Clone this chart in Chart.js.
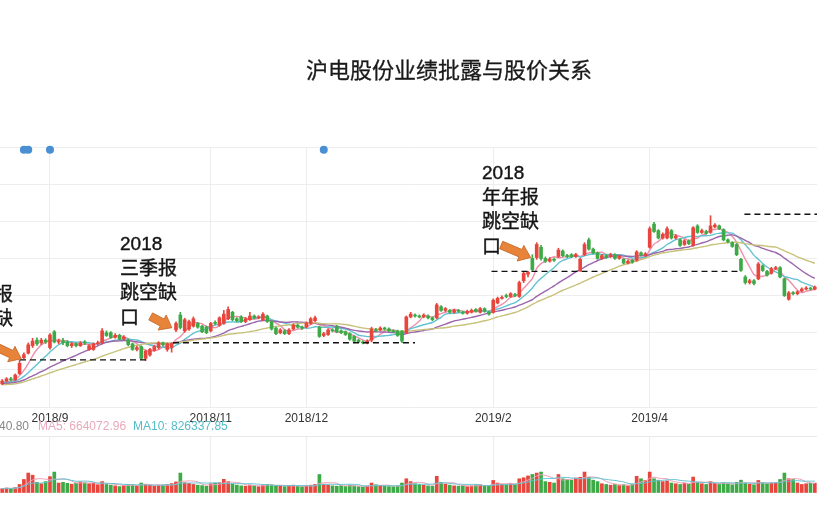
<!DOCTYPE html>
<html>
<head>
<meta charset="utf-8">
<script src="https://cdn.jsdelivr.net/npm/chart.js@4.4.1/dist/chart.umd.min.js"></script>
<style>
  html, body { margin: 0; padding: 0; background: #fff; }
  #wrap { position: relative; width: 817px; height: 517px; overflow: hidden; }
  #price { position: absolute; left: 0; top: 0; }
  #vol { position: absolute; left: 0; top: 430px; }
  #title { position: absolute; left: 249px; width: 400px; top: 53px; text-align: center;
           font: 22px "Noto Sans CJK SC", sans-serif; line-height: 30px; color: #1a1a1a;
           -webkit-text-stroke: 0.3px #1a1a1a; }
  .note { position: absolute; white-space: pre; color: #151515;
          font: 19px "Liberation Sans", "Noto Sans CJK SC", sans-serif; line-height: 24.5px;
          -webkit-text-stroke: 0.4px #151515; }
  .leg { position: absolute; top: 419px; font: 12px "Liberation Sans", Arial, sans-serif; line-height: 14px; white-space: pre; }
</style>
</head>
<body>
<div id="wrap">
  <canvas id="price" width="817" height="430"></canvas>
  <canvas id="vol" width="817" height="87"></canvas>
  <div id="title">沪电股份业绩批露与股价关系</div>
  <div class="note" style="left:-44px; top:258px;">2018
半年报
跳空缺
口</div>
  <div class="note" style="left:120px; top:232px;">2018
三季报
跳空缺
口</div>
  <div class="note" style="left:482px; top:161px;">2018
年年报
跳空缺
口</div>
  <span class="leg" style="left:-1px; color:#888;">40.80</span>
  <span class="leg" style="left:38px; color:#e9a9bb;">MA5: 664072.96</span>
  <span class="leg" style="left:133px; color:#56bcc8;">MA10: 826337.85</span>
</div>
<script>
// daily candles, 2018-08-17 .. 2019-05-29 (index 0..187)
var opens = [
  5.25,5.40,5.52,5.46,5.80,6.65,6.90,7.30,7.60,7.45,
  7.60,7.20,8.05,7.50,7.56,7.50,7.30,7.40,7.30,7.50,
  7.10,7.10,7.40,7.46,8.00,8.00,7.75,7.86,7.66,7.60,
  7.40,7.10,7.25,6.62,6.80,7.05,7.20,7.45,7.10,7.20,
  8.15,8.95,8.10,8.20,8.35,8.50,8.35,8.30,8.10,8.55,
  8.40,8.50,8.75,9.10,8.75,8.85,8.60,8.70,8.90,8.80,
  8.70,8.90,8.60,8.25,8.00,8.10,7.95,8.20,8.40,8.30,
  8.30,8.50,8.65,8.30,7.85,7.90,8.15,8.35,8.10,8.05,
  7.95,7.80,7.60,7.50,7.45,7.60,8.15,8.15,8.25,8.20,
  8.10,8.10,8.10,8.00,8.85,8.95,8.90,8.85,8.90,8.80,
  8.80,9.40,9.20,9.20,9.10,9.20,9.10,9.05,9.10,9.25,
  9.10,9.30,9.10,9.10,9.60,9.85,10.00,9.95,10.05,9.95,
  10.80,11.15,12.00,12.05,12.60,12.00,11.85,11.95,12.10,12.40,
  12.15,12.20,12.10,11.35,12.20,13.00,12.50,12.30,12.00,12.15,
  12.10,12.20,12.00,11.95,11.75,11.90,11.90,12.30,12.15,12.60,
  13.85,13.50,13.10,13.10,13.50,13.10,13.00,12.75,12.95,12.70,
  13.75,13.40,13.45,13.40,13.70,13.75,13.55,13.00,12.85,12.75,
  11.95,11.00,10.70,10.80,10.90,11.60,11.30,11.20,11.45,11.50,
  10.90,9.80,10.15,10.10,10.25,10.35,10.40,10.35
];
var closes = [
  5.40,5.52,5.46,5.72,6.35,6.82,7.35,7.55,7.40,7.60,
  7.50,7.88,7.50,7.56,7.46,7.30,7.40,7.30,7.45,7.44,
  7.30,7.40,7.46,8.10,7.85,7.75,7.86,7.66,7.76,7.36,
  7.10,7.20,6.62,7.00,7.10,7.25,7.45,7.35,7.40,7.42,
  8.50,8.28,8.70,8.60,8.75,8.30,8.05,8.00,8.50,8.50,
  8.80,9.00,9.25,8.70,8.65,8.60,8.75,8.90,8.80,8.85,
  9.00,8.60,8.20,7.95,8.15,7.95,8.15,8.40,8.30,8.25,
  8.50,8.75,8.80,7.80,7.95,8.15,8.10,8.05,8.00,7.90,
  7.65,7.55,7.50,7.45,7.55,8.20,8.10,8.25,8.20,8.10,
  8.05,7.85,7.55,8.85,9.00,8.90,8.85,8.95,8.80,8.70,
  9.50,9.20,9.30,9.10,9.20,9.15,9.05,9.15,9.20,9.15,
  9.30,9.15,9.00,9.75,9.85,9.90,9.95,10.10,10.00,10.70,
  11.20,11.25,11.40,12.75,12.00,11.85,11.95,11.90,12.45,12.15,
  12.10,12.10,12.20,11.95,12.75,12.50,12.30,12.00,12.15,12.05,
  12.20,12.00,12.10,11.75,11.85,11.80,12.35,12.20,12.25,13.60,
  13.45,13.10,13.30,13.60,13.10,13.20,12.70,12.95,12.80,13.65,
  13.40,13.50,13.35,13.75,13.80,13.60,13.00,12.90,12.65,12.20,
  11.35,10.70,10.80,10.65,11.70,11.35,11.10,11.45,11.50,11.00,
  10.00,10.15,10.10,10.20,10.35,10.40,10.35,10.45
];
var highs = [
  5.48,5.58,5.60,5.78,6.54,6.92,7.45,7.70,7.72,7.70,
  7.68,7.95,8.12,7.66,7.70,7.58,7.48,7.46,7.52,7.58,
  7.36,7.46,7.55,8.22,8.10,8.06,7.95,7.92,7.84,7.66,
  7.45,7.28,7.30,7.06,7.16,7.32,7.52,7.50,7.44,7.46,
  8.58,9.10,8.78,8.68,8.85,8.56,8.40,8.36,8.56,8.64,
  8.86,9.20,9.40,9.15,8.82,8.92,8.82,9.10,8.96,8.92,
  9.08,8.95,8.64,8.30,8.22,8.16,8.22,8.48,8.46,8.36,
  8.58,8.82,8.90,8.34,8.02,8.22,8.22,8.40,8.16,8.10,
  8.00,7.85,7.65,7.56,7.62,8.30,8.24,8.32,8.30,8.26,
  8.16,8.14,8.12,8.90,9.10,9.02,8.96,9.02,8.96,8.85,
  9.58,9.46,9.36,9.26,9.26,9.26,9.16,9.22,9.28,9.30,
  9.36,9.34,9.16,9.82,9.92,9.98,10.08,10.16,10.12,10.78,
  11.25,11.30,12.20,12.85,12.70,12.08,12.05,12.02,12.55,12.46,
  12.22,12.26,12.28,12.00,12.85,13.10,12.56,12.35,12.22,12.20,
  12.28,12.25,12.16,12.00,11.92,11.95,12.42,12.36,12.32,13.70,
  13.95,13.55,13.38,13.70,13.56,13.28,13.05,13.02,13.00,13.72,
  13.82,13.58,13.52,14.30,13.88,13.80,13.60,13.06,12.90,12.80,
  12.00,11.08,10.88,10.86,11.78,11.66,11.36,11.52,11.58,11.56,
  10.95,10.22,10.22,10.26,10.42,10.48,10.45,10.52
];
var lows = [
  5.20,5.35,5.40,5.42,5.75,6.60,6.85,7.20,7.32,7.36,
  7.42,7.12,7.45,7.40,7.36,7.24,7.20,7.24,7.26,7.36,
  7.04,7.05,7.34,7.40,7.80,7.70,7.70,7.60,7.60,7.30,
  7.05,7.02,6.55,6.50,6.74,7.00,7.12,7.28,7.00,6.95,
  8.05,8.20,8.02,8.12,8.30,8.24,8.00,7.95,8.04,8.42,
  8.35,8.45,8.70,8.64,8.58,8.55,8.54,8.66,8.74,8.75,
  8.65,8.55,8.14,7.90,7.94,7.90,7.90,8.15,8.24,8.18,
  8.26,8.45,8.60,7.75,7.78,7.85,8.04,8.00,7.95,7.85,
  7.60,7.50,7.46,7.40,7.40,7.50,8.04,8.10,8.14,8.05,
  8.00,7.80,7.46,7.95,8.80,8.84,8.80,8.80,8.74,8.65,
  8.75,9.15,9.14,9.05,9.05,9.10,9.00,9.00,9.06,9.10,
  9.06,9.10,8.95,9.05,9.55,9.80,9.88,9.90,9.94,9.90,
  10.70,11.00,11.35,11.95,11.90,11.78,11.80,11.84,12.05,12.10,
  12.04,12.04,12.05,11.30,12.15,12.45,12.24,11.95,11.95,12.00,
  12.05,11.95,11.95,11.70,11.70,11.74,11.85,12.14,12.10,12.55,
  13.40,13.05,13.04,13.05,13.04,13.04,12.65,12.70,12.74,12.65,
  13.35,13.35,13.30,13.35,13.64,13.55,12.95,12.84,12.60,12.15,
  11.30,10.62,10.62,10.58,10.85,11.30,11.04,11.15,11.40,10.95,
  9.95,9.75,10.04,10.04,10.20,10.30,10.30,10.30
];
// volume, 10k lots
var volumes = [
  30,35,32,38,60,95,140,125,75,65,
  80,115,147,70,75,68,62,70,78,72,
  66,70,58,80,60,55,50,45,52,60,
  58,48,70,62,55,48,52,56,60,66,
  78,140,72,68,60,55,52,48,65,70,
  72,96,80,62,55,50,48,56,52,45,
  55,60,58,52,48,45,50,55,48,44,
  50,55,60,130,62,55,50,48,52,46,
  55,50,45,42,48,70,58,52,48,45,
  44,50,70,100,80,65,60,55,50,48,
  117,75,62,55,50,48,52,45,50,55,
  58,52,48,88,70,62,58,65,60,100,
  107,120,130,140,147,80,75,70,130,100,
  95,90,105,110,147,110,90,80,65,60,
  55,60,52,58,50,62,117,100,88,147,
  100,90,80,85,70,65,60,70,62,112,
  75,65,60,80,68,60,72,65,58,75,
  90,70,62,58,88,72,65,70,70,95,
  140,100,95,70,60,65,68,69
];
// closes before the visible window (only feed the moving averages)
var priorCloses = [5.00,5.05,5.10,5.00,4.95,5.05,5.10,5.15,5.10,5.20,5.15,5.10,5.20,5.25,5.20,
                   5.15,5.20,5.30,5.25,5.20,5.30,5.35,5.30,5.25,5.30,5.35,5.30,5.25,5.30];

var monthTicks = [11, 48, 70, 113, 149];
var monthLabels = ['2018/9', '2018/11', '2018/12', '2019/2', '2019/4'];

// gap levels (dashed) and where they run
var gapLevel = [6.54, 7.46, 11.30, 14.38];
var gapFrom = [4.1, 39.3, 112.6, 170.8];
var gapTo = [34, 95, 169.2, 188];

// report arrows: candle index and price of the tip
var arrowAt = [4.4, 39.05, 121.6];
var arrowPrice = [6.6, 8.27, 12.05];

// event markers on top
var eventIdx = [5, 6, 11, 74];

var upColor = '#e8463d', downColor = '#3daa47';

function movingAverage(series, prior, n) {
  var all = prior.concat(series);
  return series.map(function(_, i) {
    var end = prior.length + i + 1;
    var win = all.slice(Math.max(0, end - n), end);
    return win.reduce(function(s, v) { return s + v; }, 0) / win.length;
  });
}
function toPoints(arr) {
  return arr.map(function(v, i) { return {x: i, y: v}; });
}
function candleColor(ctx) {
  var i = ctx.dataIndex;
  return closes[i] >= opens[i] ? upColor : downColor;
}

function xScale(showLabels) {
  return {
    type: 'linear',
    min: -0.5,
    max: closes.length - 0.5,
    offset: false,
    afterBuildTicks: function(s) { s.ticks = monthTicks.map(function(v) { return {value: v}; }); },
    grid: { color: '#ededed', drawTicks: false, offset: false },
    border: { display: false },
    ticks: {
      display: showLabels, autoSkip: false, maxRotation: 0, padding: 4, color: '#333',
      font: { size: 12, family: '"Liberation Sans", Arial, sans-serif' },
      callback: function(v) { return monthLabels[monthTicks.indexOf(v)]; }
    },
    afterFit: function(s) { s.height = showLabels ? 23 : 0; }
  };
}

var arrowPlugin = {
  id: 'gapArrows',
  afterDatasetsDraw: function(chart) {
    var ctx = chart.ctx, x = chart.scales.x, y = chart.scales.y;
    var angles = [25, 28, 23], lengths = [34, 24, 32];
    ctx.save();
    arrowAt.forEach(function(a, k) {
      var tx = x.getPixelForValue(a), ty = y.getPixelForValue(arrowPrice[k]);
      var L = lengths[k], hl = 11, hw = 8.5, sw = 4;
      ctx.save();
      ctx.translate(tx, ty);
      ctx.rotate(angles[k] * Math.PI / 180);
      ctx.beginPath();
      ctx.moveTo(0, 0);
      ctx.lineTo(-hl, hw);
      ctx.lineTo(-hl, sw);
      ctx.lineTo(-L, sw);
      ctx.lineTo(-L, -sw);
      ctx.lineTo(-hl, -sw);
      ctx.lineTo(-hl, -hw);
      ctx.closePath();
      ctx.fillStyle = '#e8843a';
      ctx.fill();
      ctx.strokeStyle = '#c8682a';
      ctx.lineWidth = 0.8;
      ctx.stroke();
      ctx.restore();
    });
    ctx.restore();
  }
};

var maDefs = [
  {n: 30, color: '#c8c27c'},
  {n: 20, color: '#9c66ad'},
  {n: 10, color: '#62c2d2'},
  {n: 5, color: '#ee8fab'}
];

var priceSets = [];
maDefs.forEach(function(m) {
  priceSets.push({
    type: 'line', data: toPoints(movingAverage(closes, priorCloses, m.n)),
    borderColor: m.color, borderWidth: 1.4, pointRadius: 0, tension: 0.3, order: 5
  });
});
priceSets.push({
  type: 'bar', data: closes.map(function(c, i) { return {x: i, y: [lows[i], highs[i]]}; }),
  backgroundColor: candleColor, barThickness: 1, grouped: false, order: 4
});
priceSets.push({
  type: 'bar', data: closes.map(function(c, i) { return {x: i, y: [opens[i], c]}; }),
  backgroundColor: candleColor, barThickness: 3, minBarLength: 1, grouped: false, order: 3
});
gapLevel.forEach(function(lv, k) {
  priceSets.push({
    type: 'line', data: [{x: gapFrom[k], y: lv}, {x: gapTo[k], y: lv}],
    borderColor: '#111', borderWidth: 1.3, borderDash: [6, 4], pointRadius: 0, order: 2
  });
});
priceSets.push({
  type: 'line', data: eventIdx.map(function(i) { return {x: i, y: 17.85}; }),
  showLine: false, pointRadius: 4, pointBackgroundColor: '#4b8fd3', pointBorderWidth: 0,
  clip: false, order: 1
});

new Chart(document.getElementById('price'), {
  type: 'bar',
  data: { datasets: priceSets },
  plugins: [arrowPlugin],
  options: {
    responsive: false, animation: false,
    layout: { padding: { top: 147, left: 0, right: 0, bottom: 0 }, autoPadding: false },
    plugins: { legend: { display: false }, tooltip: { enabled: false } },
    scales: {
      x: xScale(true),
      y: {
        min: 4, max: 18,
        ticks: { stepSize: 2, display: false },
        grid: { color: '#ededed', drawTicks: false },
        border: { display: false },
        afterFit: function(s) { s.width = 0; }
      }
    }
  }
});

new Chart(document.getElementById('vol'), {
  type: 'bar',
  data: {
    datasets: [
      { type: 'line', data: toPoints(movingAverage(volumes, [], 10)), borderColor: '#62c2d2',
        borderWidth: 1, pointRadius: 0, tension: 0.3, order: 1 },
      { type: 'line', data: toPoints(movingAverage(volumes, [], 5)), borderColor: '#ee9fb8',
        borderWidth: 1, pointRadius: 0, tension: 0.3, order: 2 },
      { type: 'bar', data: toPoints(volumes), backgroundColor: candleColor,
        barThickness: 3, grouped: false, order: 3 }
    ]
  },
  options: {
    responsive: false, animation: false,
    layout: { padding: { top: 6, left: 0, right: 0, bottom: 24 }, autoPadding: false },
    plugins: { legend: { display: false }, tooltip: { enabled: false } },
    scales: {
      x: xScale(false),
      y: {
        min: 0, max: 400,
        ticks: { stepSize: 400, display: false },
        grid: { color: function(c) { return c.tick.value === 400 ? '#e8e8e8' : 'rgba(0,0,0,0)'; }, drawTicks: false },
        border: { display: false },
        afterFit: function(s) { s.width = 0; }
      }
    }
  }
});
</script>
</body>
</html>
